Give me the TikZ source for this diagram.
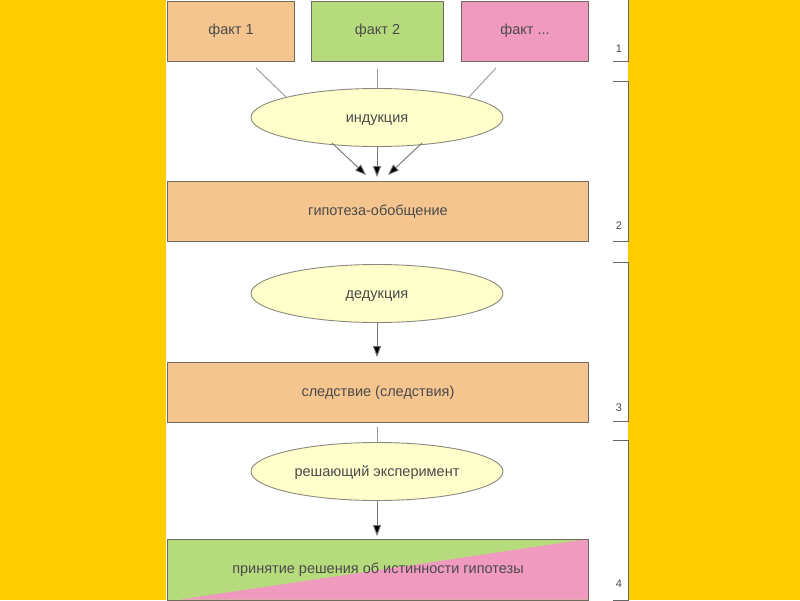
\documentclass[tikz,border=0pt]{standalone}
\usepackage{fontspec}
\setmainfont{Liberation Sans}
\usetikzlibrary{arrows.meta,shapes.geometric}
\definecolor{bgyellow}{HTML}{FFCC00}
\definecolor{peach}{HTML}{F5C58F}
\definecolor{leaf}{HTML}{B6DB7D}
\definecolor{rose}{HTML}{F09ABF}
\definecolor{cream}{HTML}{FFFFCC}
\definecolor{txt}{HTML}{4A4A4A}
\definecolor{edge}{HTML}{6E6A5E}
\tikzset{
  box/.style={draw=edge, line width=0.9pt, minimum height=60pt, inner sep=0pt, text=txt, font=\fontsize{14.5}{16}\selectfont},
  oval/.style={ellipse, draw=edge!80, line width=0.9pt, fill=cream, minimum width=252pt, minimum height=58pt, inner sep=0pt, text=txt, font=\fontsize{14.5}{16}\selectfont},
  ovaltext/.style={anchor=base, inner sep=0pt, text=txt, font=\fontsize{14.5}{16}\selectfont},
  link/.style={draw=gray!80, line width=0.9pt},
  flow/.style={draw=gray!90!black, line width=0.9pt, -{Triangle[length=11pt,width=8pt,fill=black]}},
  brk/.style={draw=gray!80!black, line width=0.9pt},
  num/.style={text=txt, font=\fontsize{11}{13}\selectfont, inner sep=0pt},
}
\begin{document}
\begin{tikzpicture}[x=1pt,y=-1pt]
\useasboundingbox (0,0) rectangle (800,600);
\fill[bgyellow] (0,0) rectangle (800,600);
\fill[white] (166,0) rectangle (628,600);

% fact boxes
\node[box, fill=peach, minimum width=127pt, anchor=north west] (f1) at (167,0.5) {факт 1};
\node[box, fill=leaf, minimum width=132pt, anchor=north west] (f2) at (311,0.5) {факт 2};
\node[box, fill=rose, minimum width=127pt, anchor=north west] (f3) at (461,0.5) {факт ...};

% induction
\node[oval] (ind) at (377,117.5) {};
\node[ovaltext] (indt) at (377,122) {индукция};
\coordinate (l1a) at (256,68); \coordinate (l1b) at (286,97);
\coordinate (l2a) at (377,69); \coordinate (l2b) at (377,88.5);
\coordinate (l3a) at (496,68); \coordinate (l3b) at (469,97);
\draw[link] (l1a) -- (l1b);
\draw[link] (l2a) -- (l2b);
\draw[link] (l3a) -- (l3b);

% hypothesis
\node[box, fill=peach, minimum width=421pt, anchor=north west] (hyp) at (167,181) {гипотеза-обобщение};
\coordinate (a1s) at (332,143); \coordinate (a1e) at (366,175);
\coordinate (a2s) at (377,146.5); \coordinate (a2e) at (377,177);
\coordinate (a3s) at (422,143); \coordinate (a3e) at (388,175);
\draw[flow] (a1s) -- (a1e);
\draw[flow] (a2s) -- (a2e);
\draw[flow] (a3s) -- (a3e);

% deduction
\node[oval] (ded) at (377,293.5) {};
\node[ovaltext] (dedt) at (377,298) {дедукция};
\coordinate (c1) at (377,357);
\draw[flow] (ded.south) -- (c1);

% consequence
\node[box, fill=peach, minimum width=421pt, anchor=north west] (cons) at (167,362) {следствие (следствия)};
\coordinate (c2) at (377,427);
\node[oval] (exp) at (377,471.5) {};
\node[ovaltext] (expt) at (377,476) {решающий эксперимент};
\draw[link] (c2) -- (exp.north);
\coordinate (c3) at (377,536);
\draw[flow] (exp.south) -- (c3);

% decision
\coordinate (dTL) at (167,539); \coordinate (dTR) at (588,539);
\coordinate (dBR) at (588,599.5); \coordinate (dBL) at (167,599.5);
\coordinate (dDiag) at (180,599.5);
\fill[leaf] (dTL) rectangle (dBR);
\fill[rose] (dDiag) -- (dTR) -- (dBR) -- cycle;
\node[box, minimum width=421pt, minimum height=60.5pt, anchor=north west] (dec) at (167,539) {принятие решения об истинности гипотезы};

% right bracket
\coordinate (b0) at (628,0); \coordinate (b1) at (628,61);
\coordinate (b2) at (628,81); \coordinate (b3) at (628,241);
\coordinate (b4) at (628,262); \coordinate (b5) at (628,421);
\coordinate (b6) at (628,440); \coordinate (b7) at (628,600);
\draw[brk] (b0) -- (b1) -- ++(-15,0);
\draw[brk] ([xshift=-15pt]b2) -- (b2) -- (b3) -- ++(-15,0);
\draw[brk] ([xshift=-15pt]b4) -- (b4) -- (b5) -- ++(-15,0);
\draw[brk] ([xshift=-15pt]b6) -- (b6) -- (b7) -- ++(-15,0);
\node[num] (n1) at (619,49) {1};
\node[num] (n2) at (619,226) {2};
\node[num] (n3) at (619,408) {3};
\node[num] (n4) at (619,584) {4};
\end{tikzpicture}
\end{document}
